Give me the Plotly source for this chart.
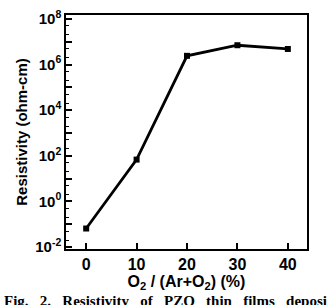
import plotly.graph_objects as go

o2_ratio = [0, 10, 20, 30, 40]
resistivity = [0.065, 68, 2.4e6, 7.0e6, 4.8e6]

y_tick_vals = [1e-2, 1e-1, 1e0, 1e1, 1e2, 1e3, 1e4, 1e5, 1e6, 1e7, 1e8]
y_tick_text = ["10<sup>-2</sup>", "", "10<sup>0</sup>", "", "10<sup>2</sup>", "",
               "10<sup>4</sup>", "", "10<sup>6</sup>", "", "10<sup>8</sup>"]
x_tick_vals = [0, 10, 20, 30, 40]

fig = go.Figure()
fig.add_trace(go.Scatter(
    x=o2_ratio, y=resistivity, mode="lines+markers",
    line=dict(color="black", width=2.8),
    marker=dict(symbol="square", size=6, color="black"),
    showlegend=False,
))

F = "Liberation Sans, Arial, sans-serif"
fig.update_layout(
    width=327, height=305,
    margin=dict(l=66, r=20, t=8, b=56),
    paper_bgcolor="white", plot_bgcolor="white",
    font=dict(family=F, size=15, color="black", weight="bold"),
    xaxis=dict(
        range=[-4, 43.8], tickvals=x_tick_vals, ticks="inside", ticklen=6,
        tickwidth=1.5, tickcolor="black", showgrid=False, zeroline=False,
        showline=True, linecolor="black", linewidth=1.5, mirror=True,
        tickfont=dict(family=F, size=16, weight="bold"),
        title=dict(text="O<sub>2</sub> / (Ar+O<sub>2</sub>) (%)",
                   font=dict(family=F, size=16, weight="bold"), standoff=0),
    ),
    yaxis=dict(
        type="log", range=[-2.085, 8.17], tickvals=y_tick_vals, ticktext=y_tick_text,
        ticks="inside", ticklen=6, tickwidth=1.5, tickcolor="black",
        minor=dict(ticks="inside", ticklen=3, tickcolor="black", tickwidth=1, showgrid=False),
        showgrid=False, zeroline=False,
        showline=True, linecolor="black", linewidth=1.5, mirror=True,
        tickfont=dict(family=F, size=15, weight="bold"),
        title=dict(text="Resistivity (ohm-cm)",
                   font=dict(family=F, size=15, weight="bold"), standoff=4),
    ),
)

sp = "&nbsp;&nbsp;&nbsp;"
caption_words = ["Fig.", "2.", "Resistivity", "of", "PZO", "thin", "films", "deposit"]
fig.add_annotation(
    xref="paper", yref="paper", x=-64/241, y=(249 - 292) / 241,
    xanchor="left", yanchor="top", showarrow=False,
    text=sp.join(caption_words),
    font=dict(family="Liberation Serif, Times New Roman, serif", size=15, weight="bold"),
)

fig.write_html("out.html")
